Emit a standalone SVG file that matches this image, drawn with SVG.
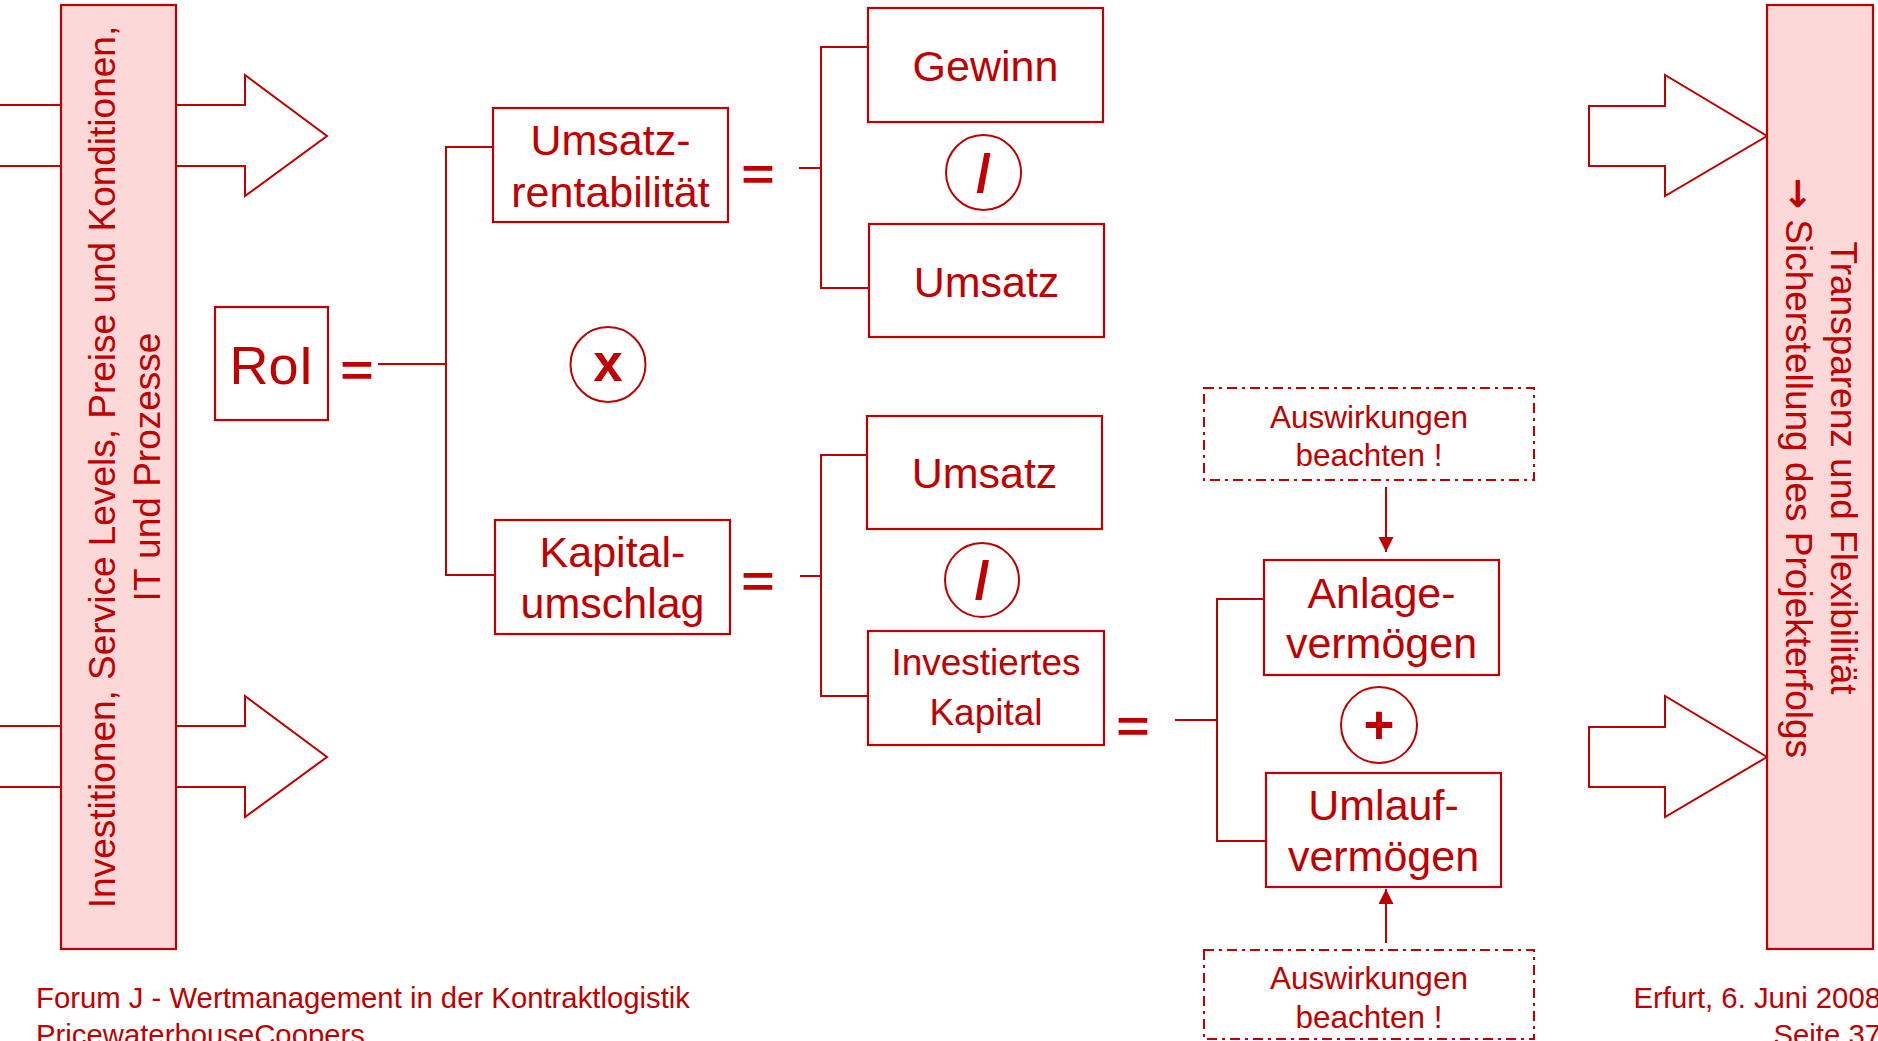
<svg xmlns="http://www.w3.org/2000/svg" width="1878" height="1041" viewBox="0 0 1878 1041">
  <style>
    text { font-family: "Liberation Sans", Arial, sans-serif; fill: #C00000; }
    .box { fill: #FFFFFF; stroke: #C00000; stroke-width: 2.2; }
    .bar { fill: #FDD8D8; stroke: #C00000; stroke-width: 2.2; }
    .note { fill: #FFFFFF; stroke: #C00000; stroke-width: 2; stroke-dasharray: 10 5 3 5; }
    .op { fill: #FFFFFF; stroke: #C00000; stroke-width: 2; }
    .line { fill: none; stroke: #C00000; stroke-width: 2; }
    .block { fill: #FFFFFF; stroke: #C00000; stroke-width: 2; stroke-linejoin: miter; }
    .big { font-size: 43px; text-anchor: middle; }
    .mid { font-size: 37px; text-anchor: middle; }
    .small { font-size: 31.5px; text-anchor: middle; }
    .side { font-size: 37px; text-anchor: middle; }
    .arrowglyph { font-family: "DejaVu Sans", sans-serif; font-weight: bold; }
    .sym { font-size: 53px; font-weight: bold; text-anchor: middle; }
    .eq { font-size: 44px; font-weight: bold; text-anchor: middle; }
    .foot { font-size: 29.3px; }
  </style>
  <defs>
    <marker id="head" viewBox="0 0 10 10" refX="10" refY="5" markerUnits="userSpaceOnUse" markerWidth="16" markerHeight="15" orient="auto">
      <path d="M0,0 L10,5 L0,10 Z" fill="#C00000"/>
    </marker>
  </defs>

  <!-- broad flow arrows (drawn before the side bars so the bars cover their tails) -->
  <g id="flow-arrows">
    <path class="block" d="M-2,105 H245 V75 L327,136 L245,196 V166 H-2"/>
    <path class="block" d="M-2,726 H245 V696 L327,757 L245,817 V787 H-2"/>
    <path class="block" d="M1589,106 H1665 V75 L1767,136 L1665,196 V166 H1589 Z"/>
    <path class="block" d="M1589,727 H1665 V696 L1767,757 L1665,817 V787 H1589 Z"/>
  </g>

  <!-- left side bar -->
  <g id="drivers">
    <rect class="bar" x="61" y="5" width="115" height="944"/>
    <g transform="translate(0,467) rotate(-90)">
      <text class="side" x="0" y="115">Investitionen, Service Levels, Preise und Konditionen,</text>
      <text class="side" x="0" y="160">IT und Prozesse</text>
    </g>
  </g>

  <!-- right side bar -->
  <g id="goals">
    <rect class="bar" x="1767" y="5" width="106" height="944"/>
    <g transform="translate(0,468) rotate(90)">
      <text class="side" x="0" y="-1831">Transparenz und Flexibilität</text>
      <text class="side" x="0" y="-1786"><tspan class="arrowglyph">→</tspan> Sicherstellung des Projekterfolgs</text>
    </g>
  </g>

  <!-- connectors: bracket lines and hint arrows -->
  <g id="connectors">
    <path class="line" d="M378,364 H446 M493,147 H446 V575 H495"/>
    <path class="line" d="M799,168 H821 M868,47 H821 V288 H869"/>
    <path class="line" d="M800,576 H821 M867,455 H821 V696 H869"/>
    <path class="line" d="M1175,720 H1217 M1264,599 H1217 V841 H1266"/>
    <line class="line" x1="1386" y1="487" x2="1386" y2="552" marker-end="url(#head)"/>
    <line class="line" x1="1386" y1="943" x2="1386" y2="889" marker-end="url(#head)"/>
  </g>

  <!-- equals signs -->
  <g id="equals">
    <text class="eq" transform="translate(357,386) scale(1.3,1)">=</text>
    <text class="eq" transform="translate(758,190) scale(1.3,1)">=</text>
    <text class="eq" transform="translate(758,597) scale(1.3,1)">=</text>
    <text class="eq" transform="translate(1133,742) scale(1.3,1)">=</text>
  </g>

  <g id="roi">
    <rect class="box" x="215" y="307" width="113" height="113"/>
    <text x="271.5" y="384" style="font-size:54px;text-anchor:middle">RoI</text>
  </g>

  <g id="umsatzrentabilitaet">
    <rect class="box" x="493" y="108" width="235" height="114"/>
    <text class="big" x="610.5" y="155">Umsatz-</text>
    <text class="big" x="610.5" y="207">rentabilität</text>
  </g>

  <g id="op-mal">
    <circle class="op" cx="608" cy="364.5" r="37.5"/>
    <text class="sym" x="608" y="380.5">x</text>
  </g>

  <g id="kapitalumschlag">
    <rect class="box" x="495" y="520" width="235" height="114"/>
    <text class="big" x="612.5" y="567">Kapital-</text>
    <text class="big" x="612.5" y="618">umschlag</text>
  </g>

  <g id="gewinn">
    <rect class="box" x="868" y="8" width="235" height="114"/>
    <text class="big" x="985.5" y="81">Gewinn</text>
  </g>

  <g id="op-div-1">
    <circle class="op" cx="983.5" cy="172.5" r="37.5"/>
    <text class="sym" x="983.5" y="192">/</text>
  </g>

  <g id="umsatz-1">
    <rect class="box" x="869" y="224" width="235" height="113"/>
    <text class="big" x="986.5" y="297">Umsatz</text>
  </g>

  <g id="umsatz-2">
    <rect class="box" x="867" y="416" width="235" height="113"/>
    <text class="big" x="984.5" y="488">Umsatz</text>
  </g>

  <g id="op-div-2">
    <circle class="op" cx="982" cy="580" r="37"/>
    <text class="sym" x="982" y="599">/</text>
  </g>

  <g id="investiertes-kapital">
    <rect class="box" x="868" y="631" width="236" height="114"/>
    <text class="mid" x="986" y="675">Investiertes</text>
    <text class="mid" x="986" y="725">Kapital</text>
  </g>

  <g id="hinweis-oben">
    <rect class="note" x="1204" y="388" width="330" height="92"/>
    <text class="small" x="1369" y="428">Auswirkungen</text>
    <text class="small" x="1369" y="466">beachten !</text>
  </g>

  <g id="anlagevermoegen">
    <rect class="box" x="1264" y="560" width="235" height="115"/>
    <text class="big" x="1381.5" y="608">Anlage-</text>
    <text class="big" x="1381.5" y="658">vermögen</text>
  </g>

  <g id="op-plus">
    <circle class="op" cx="1379" cy="725" r="38"/>
    <text class="sym" x="1379" y="743">+</text>
  </g>

  <g id="umlaufvermoegen">
    <rect class="box" x="1266" y="773" width="235" height="114"/>
    <text class="big" x="1383.5" y="820">Umlauf-</text>
    <text class="big" x="1383.5" y="871">vermögen</text>
  </g>

  <g id="hinweis-unten">
    <rect class="note" x="1204" y="950" width="330" height="89"/>
    <text class="small" x="1369" y="989">Auswirkungen</text>
    <text class="small" x="1369" y="1028">beachten !</text>
  </g>

  <!-- footer -->
  <g id="footer">
    <text class="foot" x="36" y="1008">Forum J - Wertmanagement in der Kontraktlogistik</text>
    <text class="foot" x="36" y="1045">PricewaterhouseCoopers</text>
    <text class="foot" x="1881" y="1008" text-anchor="end">Erfurt, 6. Juni 2008</text>
    <text class="foot" x="1881" y="1045" text-anchor="end">Seite 37</text>
  </g>
</svg>
